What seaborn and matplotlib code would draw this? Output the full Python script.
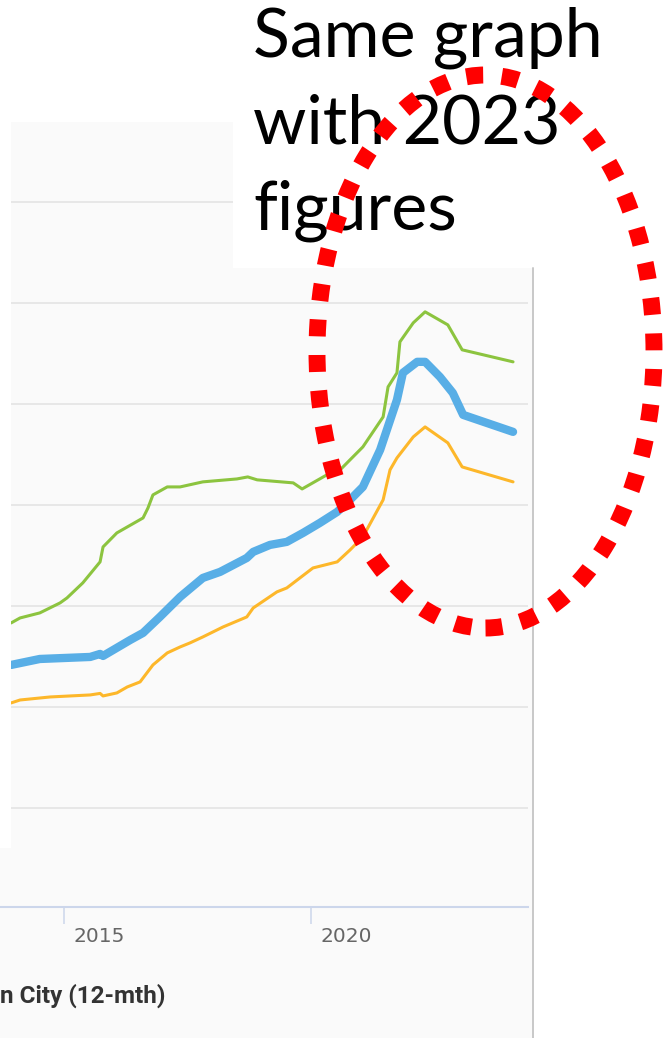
import matplotlib
matplotlib.use("Agg")
import matplotlib.pyplot as plt
from matplotlib.patches import Rectangle, Ellipse
from matplotlib.lines import Line2D
from matplotlib.transforms import ScaledTranslation
import pandas as pd
import seaborn as sns

# ---------------- data ----------------
upper_years = [2013.93, 2014.11, 2014.51, 2014.92, 2015.06, 2015.38, 2015.73, 2015.79,
               2016.07, 2016.60, 2016.70, 2016.80, 2017.09, 2017.35, 2017.81, 2018.50,
               2018.72, 2018.91, 2019.64, 2019.82, 2020.32, 2020.53, 2020.79, 2021.05,
               2021.46, 2021.56, 2021.74, 2021.80, 2022.07, 2022.31, 2022.77, 2023.06,
               2024.09]
upper_rent = [283.2, 288.1, 293.1, 303.0, 307.9, 322.8, 343.6, 358.4,
              372.3, 387.1, 397.0, 409.9, 417.8, 417.8, 422.8, 425.7,
              427.7, 424.8, 421.8, 415.8, 429.7, 431.7, 444.6, 457.4,
              487.1, 516.8, 530.7, 561.4, 580.2, 591.1, 578.2, 553.5,
              541.6]

median_years = [2013.93, 2014.51, 2015.53, 2015.73, 2015.79, 2016.34, 2016.60, 2016.94,
                2017.35, 2017.81, 2018.16, 2018.70, 2018.83, 2019.17, 2019.51, 2019.84,
                2020.18, 2020.53, 2020.79, 2021.05, 2021.40, 2021.74, 2021.86, 2022.15,
                2022.31, 2022.61, 2022.87, 2023.08, 2024.09]
median_rent = [241.6, 247.5, 249.5, 252.5, 250.5, 266.3, 273.3, 289.1,
               308.9, 327.7, 333.7, 347.5, 353.5, 360.4, 363.4, 372.3,
               382.2, 393.1, 405.0, 417.8, 454.5, 504.0, 530.7, 541.6,
               541.6, 526.7, 510.9, 489.1, 472.3]

lower_years = [2013.93, 2014.11, 2014.72, 2015.53, 2015.73, 2015.79, 2016.07, 2016.28,
               2016.54, 2016.80, 2017.09, 2017.35, 2017.55, 2017.81, 2018.22, 2018.70,
               2018.83, 2019.31, 2019.51, 2020.04, 2020.53, 2020.79, 2021.05, 2021.46,
               2021.60, 2021.74, 2022.07, 2022.31, 2022.77, 2023.06, 2024.09]
lower_rent = [204.0, 206.9, 209.9, 211.9, 213.4, 210.9, 213.9, 219.8,
              224.8, 241.6, 253.5, 259.4, 263.4, 269.3, 279.2, 289.1,
              298.0, 313.9, 317.8, 337.6, 343.6, 355.4, 368.3, 405.0,
              434.7, 446.5, 467.3, 477.2, 461.4, 437.6, 422.8]

grid_values = [100, 200, 300, 400, 500, 600, 700]
tick_years = [2015, 2020]
tick_labels = ["2015", "2020"]
legend_text = "n City (12-mth)"
note_lines = ["Same graph", "with 2023", "figures"]

# ---------------- figure ----------------
W, H, DPI = 667, 1038, 100
sns.set_theme(style="white")
plt.rcParams["font.family"] = ["DejaVu Sans"]

fig = plt.figure(figsize=(W / DPI, H / DPI), dpi=DPI)
fig.patch.set_facecolor("white")


def fx(x):
    return x / W


def fy(y):
    return 1 - y / H


# chart panel background
fig.add_artist(Rectangle((fx(0), fy(1038)), fx(533), (1038 - 122) / H,
                         transform=fig.transFigure, facecolor="#fafafa",
                         edgecolor="none", zorder=-1))

ax = fig.add_axes([fx(0), fy(907), fx(528), (907 - 122) / H])
ax.set_facecolor("none")

upper = pd.DataFrame({"year": upper_years, "rent": upper_rent})
median = pd.DataFrame({"year": median_years, "rent": median_rent})
lower = pd.DataFrame({"year": lower_years, "rent": lower_rent})

sns.lineplot(data=upper, x="year", y="rent", ax=ax, color="#8cc43f",
             linewidth=2.2, errorbar=None, sort=False)
sns.lineplot(data=lower, x="year", y="rent", ax=ax, color="#fdb72a",
             linewidth=2.2, errorbar=None, sort=False)
sns.lineplot(data=median, x="year", y="rent", ax=ax, color="#58aee6",
             linewidth=6.0, errorbar=None, sort=False)
for ln in ax.lines:
    ln.set_solid_capstyle("round")
    ln.set_solid_joinstyle("round")

ax.set_xlim(2013.704, 2024.393)
ax.set_ylim(2, 779)
ax.set_xlabel("")
ax.set_ylabel("")

ax.set_yticks(grid_values)
ax.yaxis.grid(True, color="#e6e6e6", linewidth=1.3)
ax.xaxis.grid(False)
ax.tick_params(axis="y", left=False, labelleft=False)

for s in ["top", "right", "left"]:
    ax.spines[s].set_visible(False)
ax.spines["bottom"].set_color("#ccd6eb")
ax.spines["bottom"].set_linewidth(1.5)

ax.set_xticks(tick_years)
ax.set_xticklabels(tick_labels, fontsize=14.5, color="#666666")
ax.tick_params(axis="x", bottom=True, length=12.2, width=1.1, color="#ccd6eb",
               pad=2, direction="out")
offset = ScaledTranslation(9 / DPI, 0, fig.dpi_scale_trans)
for lbl in ax.get_xticklabels():
    lbl.set_horizontalalignment("left")
    lbl.set_transform(lbl.get_transform() + offset)

# legend label (clipped in the screenshot)
fig.text(fx(165), fy(996), legend_text, ha="right", va="center",
         fontsize=17.5, fontweight="bold", color="#333333", family=["Roboto"])

# white strips covering the chart
fig.add_artist(Rectangle((fx(0), fy(848)), fx(11), (848 - 122) / H,
                         transform=fig.transFigure, facecolor="white",
                         edgecolor="none", zorder=2))
fig.add_artist(Rectangle((fx(233), fy(268)), fx(667 - 233), 268 / H,
                         transform=fig.transFigure, facecolor="white",
                         edgecolor="none", zorder=2))
fig.add_artist(Line2D([fx(533), fx(533)], [fy(268), fy(1038)],
                      transform=fig.transFigure, color="#c8c8c8",
                      linewidth=1.4, zorder=2))

# annotation text
for line, base in zip(note_lines, [57, 143, 230]):
    fig.text(fx(253), fy(base), line, ha="left", va="baseline",
             fontsize=49, color="black", family=["Lato"], zorder=3)

# red dotted ellipse
fig.add_artist(Ellipse((fx(485.5), fy(351.5)), 337 / W, 553 / H,
                       transform=fig.transFigure, fill=False,
                       edgecolor="#ff0000", linewidth=12.2,
                       linestyle=(0, (1.0, 1.1)), capstyle="butt", zorder=5))

fig.savefig("out.png", dpi=DPI)
